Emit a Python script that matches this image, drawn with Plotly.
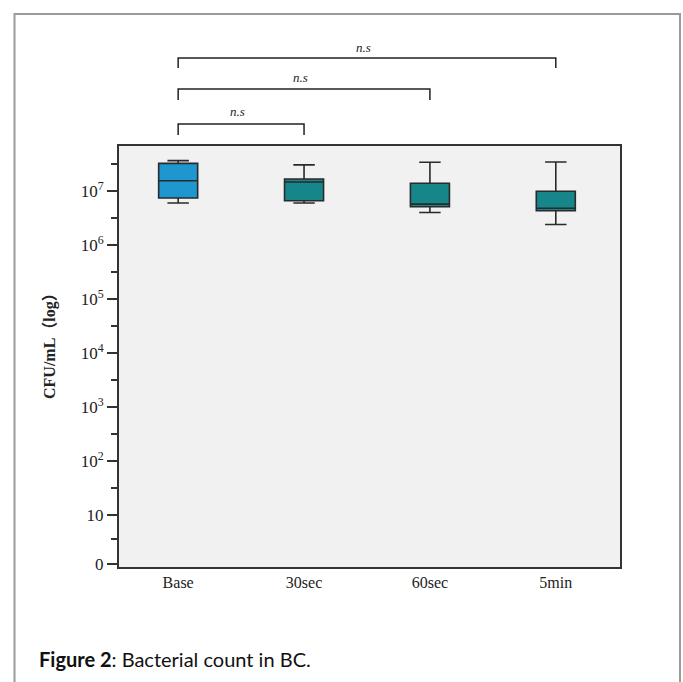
import plotly.graph_objects as go

categories = ["Base", "30sec", "60sec", "5min"]
lower_whisker = [6.0e6, 6.0e6, 4.0e6, 2.4e6]
q1_vals = [7.4e6, 6.6e6, 5.1e6, 4.3e6]
median_vals = [1.55e7, 1.47e7, 5.7e6, 4.8e6]
q3_vals = [3.25e7, 1.67e7, 1.39e7, 9.9e6]
upper_whisker = [3.65e7, 3.05e7, 3.4e7, 3.45e7]
box_colors = ["#1E96CF", "#17868A", "#17868A", "#17868A"]

ytick_vals = [10 ** 0.1, 1e1, 1e2, 1e3, 1e4, 1e5, 1e6, 1e7]
ytick_text = ["0", "10", "10<sup>2</sup>", "10<sup>3</sup>", "10<sup>4</sup>",
              "10<sup>5</sup>", "10<sup>6</sup>", "10<sup>7</sup>"]
minor_vals = [10 ** 0.55] + [10 ** (k + 0.5) for k in range(1, 8)]

comparisons = [("Base", "30sec"), ("Base", "60sec"), ("Base", "5min")]
sig_labels = ["n.s", "n.s", "n.s"]

W, H = 683, 682
ML, MR, MT, MB = 119, 63, 146, 115
PW, PH = W - ML - MR, H - MT - MB


def px_x(x):
    return (x - ML) / PW


def px_y(y):
    return (H - MB - y) / PH


serif = "Liberation Serif, Times New Roman, serif"

fig = go.Figure()
for i, cat in enumerate(categories):
    fig.add_trace(go.Box(
        x=[cat], q1=[q1_vals[i]], median=[median_vals[i]], q3=[q3_vals[i]],
        lowerfence=[lower_whisker[i]], upperfence=[upper_whisker[i]],
        fillcolor=box_colors[i], line=dict(color="#2a2a2a", width=1.6),
        width=0.31, whiskerwidth=0.55, showlegend=False, boxpoints=False,
        hoverinfo="skip"))

shapes = []
annotations = []
# significance brackets
bar_y = [124, 89, 58]
leg_y = [135, 100, 68]
txt_y = [112, 78, 47]
for j, (a, b) in enumerate(comparisons):
    xa = categories.index(a)
    xb = categories.index(b)
    shapes.append(dict(type="path", xref="x", yref="paper",
                       path=f"M {xa},{px_y(leg_y[j])} L {xa},{px_y(bar_y[j])} L {xb},{px_y(bar_y[j])} L {xb},{px_y(leg_y[j])}",
                       line=dict(color="#222", width=1.5)))
    annotations.append(dict(x=(xa + xb) / 2 - 0.03, y=px_y(txt_y[j]), xref="x", yref="paper",
                            text="<i>" + sig_labels[j] + "</i>", showarrow=False,
                            font=dict(family=serif, size=13, color="#222"),
                            xanchor="center", yanchor="middle"))

# outer page frame
shapes.append(dict(type="rect", xref="paper", yref="paper",
                   x0=px_x(14.5), x1=px_x(680), y0=px_y(720), y1=px_y(14),
                   line=dict(color="#9a9a9a", width=2), layer="below"))

annotations.append(dict(x=px_x(50), y=px_y(342), xref="paper", yref="paper",
                        text="<b>CFU/mL（log）</b>", textangle=-90, showarrow=False,
                        font=dict(family="Liberation Serif, Noto Sans CJK SC", size=16, color="#222"),
                        xanchor="center", yanchor="middle"))
annotations.append(dict(x=px_x(37), y=px_y(659), xref="paper", yref="paper",
                        text="<b>Figure 2</b>: Bacterial count in BC.", showarrow=False,
                        font=dict(family="Lato, Open Sans, sans-serif", size=20, color="#111"),
                        xanchor="left", yanchor="middle"))

fig.update_layout(
    width=W, height=H, margin=dict(l=ML, r=MR, t=MT, b=MB),
    paper_bgcolor="white", plot_bgcolor="#F0F1F0",
    boxmode="overlay", shapes=shapes, annotations=annotations,
    xaxis=dict(type="category", categoryorder="array", categoryarray=categories,
               range=[-0.47, 3.51], showline=True, linecolor="#333", linewidth=2,
               mirror=True, ticks="", showgrid=False, zeroline=False,
               tickfont=dict(family=serif, size=16, color="#222")),
    yaxis=dict(type="log", range=[0.037, 7.833], showline=True, linecolor="#333",
               linewidth=2, mirror=True, ticks="outside", ticklen=10, tickwidth=1.5,
               tickcolor="#333", tickmode="array", tickvals=ytick_vals, ticktext=ytick_text,
               showgrid=False, zeroline=False,
               tickfont=dict(family=serif, size=17, color="#222"),
               minor=dict(tickmode="array", tickvals=minor_vals, ticks="outside",
                          ticklen=6, tickwidth=1.5, tickcolor="#333", showgrid=False)),
)

fig.write_html("out.html")
